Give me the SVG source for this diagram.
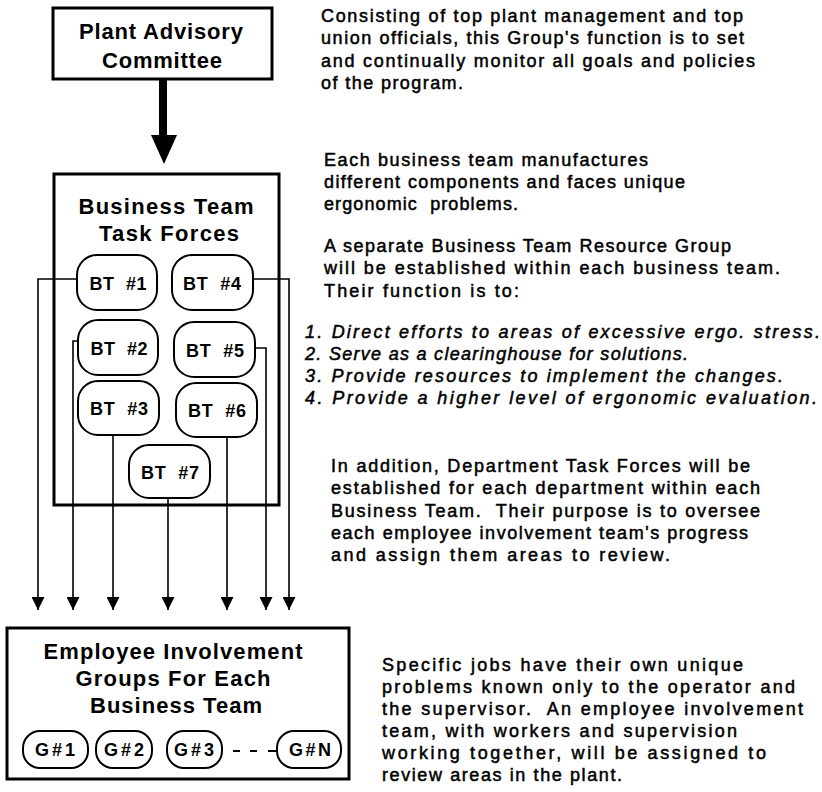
<svg xmlns="http://www.w3.org/2000/svg" width="822" height="792" viewBox="0 0 822 792">
<style>
.t{font-family:"Liberation Sans",Arial,Helvetica,sans-serif;font-size:18px;fill:#000;stroke:#000;stroke-width:0.5;white-space:pre}
.h{font-family:"Liberation Sans",Arial,Helvetica,sans-serif;font-size:22px;font-weight:bold;fill:#000;text-anchor:middle}
.lb{font-family:"Liberation Sans",Arial,Helvetica,sans-serif;font-size:18px;font-weight:bold;fill:#000;text-anchor:middle;white-space:pre}
.i{font-style:italic}
.box{fill:#fff;stroke:#000;stroke-width:3}
.pill{fill:#fff;stroke:#000;stroke-width:2}
.conn{fill:none;stroke:#000;stroke-width:1.6}
</style>
<defs>
<marker id="ah" markerUnits="userSpaceOnUse" viewBox="0 0 13 13" refX="13" refY="6.5" markerWidth="13" markerHeight="13" orient="auto">
<path d="M0,0 L13,6.5 L0,13 z" fill="#000"/>
</marker>
</defs>

<g id="plant-advisory">
<rect class="box" x="53" y="8" width="219" height="71"/>
<text class="h" x="161" y="39" textLength="164" lengthAdjust="spacing">Plant Advisory</text>
<text class="h" x="162" y="68" textLength="120" lengthAdjust="spacing">Committee</text>
</g>

<g id="business-team">
<rect class="box" x="54" y="174" width="225" height="331"/>
<text class="h" x="166" y="214" textLength="175" lengthAdjust="spacing">Business Team</text>
<text class="h" x="169" y="241" textLength="140" lengthAdjust="spacing">Task Forces</text>
</g>

<g id="bt1"><rect class="pill" x="77" y="255" width="80" height="55" rx="20"/><text class="lb" x="118" y="290" textLength="57" lengthAdjust="spacing">BT  #1</text></g>
<g id="bt4"><rect class="pill" x="172" y="255" width="81" height="55" rx="20"/><text class="lb" x="212" y="290" textLength="58" lengthAdjust="spacing">BT  #4</text></g>
<g id="bt2"><rect class="pill" x="78" y="320" width="80" height="55" rx="20"/><text class="lb" x="119" y="355" textLength="57" lengthAdjust="spacing">BT  #2</text></g>
<g id="bt5"><rect class="pill" x="174" y="322" width="81" height="55" rx="20"/><text class="lb" x="215" y="357" textLength="58" lengthAdjust="spacing">BT  #5</text></g>
<g id="bt3"><rect class="pill" x="78" y="381" width="81" height="54" rx="20"/><text class="lb" x="119" y="415" textLength="58" lengthAdjust="spacing">BT  #3</text></g>
<g id="bt6"><rect class="pill" x="176" y="383" width="81" height="54" rx="20"/><text class="lb" x="217" y="417" textLength="58" lengthAdjust="spacing">BT  #6</text></g>
<g id="bt7"><rect class="pill" x="129" y="445" width="81" height="53" rx="20"/><text class="lb" x="170" y="479" textLength="58" lengthAdjust="spacing">BT  #7</text></g>

<g id="employee-groups">
<rect class="box" x="7" y="628" width="342" height="151"/>
<text class="h" x="173" y="659" textLength="259" lengthAdjust="spacing">Employee Involvement</text>
<text class="h" x="173" y="686" textLength="195" lengthAdjust="spacing">Groups For Each</text>
<text class="h" x="176" y="713" textLength="172" lengthAdjust="spacing">Business Team</text>
</g>
<g id="g1"><rect class="pill" x="23" y="731" width="65" height="37" rx="17"/><text class="lb" x="55" y="756" textLength="40" lengthAdjust="spacing">G#1</text></g>
<g id="g2"><rect class="pill" x="96" y="731" width="56" height="37" rx="17"/><text class="lb" x="124" y="756" textLength="40" lengthAdjust="spacing">G#2</text></g>
<g id="g3"><rect class="pill" x="167" y="731" width="55" height="37" rx="17"/><text class="lb" x="194" y="756" textLength="40" lengthAdjust="spacing">G#3</text></g>
<g id="gn"><rect class="pill" x="277" y="731" width="64" height="37" rx="17"/><text class="lb" x="310" y="756" textLength="42" lengthAdjust="spacing">G#N</text></g>

<g id="connectors">
<path d="M163,79 V137" stroke="#000" stroke-width="8" fill="none"/>
<polygon points="151,135 177,135 164,164" fill="#000"/>
<path class="conn" d="M77,279 H38 V610" marker-end="url(#ah)"/>
<path class="conn" d="M78,341 H73 V610" marker-end="url(#ah)"/>
<path class="conn" d="M113,435 V610" marker-end="url(#ah)"/>
<path class="conn" d="M168,498 V610" marker-end="url(#ah)"/>
<path class="conn" d="M227,437 V610" marker-end="url(#ah)"/>
<path class="conn" d="M255,348 H266 V610" marker-end="url(#ah)"/>
<path class="conn" d="M253,279 H289 V610" marker-end="url(#ah)"/>
<path d="M233,751 h7 M250,751 h7 M268,751 h9" stroke="#000" stroke-width="2" fill="none"/>
</g>

<g id="notes">
<text class="t" x="321" y="22" textLength="422" lengthAdjust="spacing">Consisting of top plant management and top</text>
<text class="t" x="321" y="44" textLength="423" lengthAdjust="spacing">union officials, this Group's function is to set</text>
<text class="t" x="321" y="67" textLength="434" lengthAdjust="spacing">and continually monitor all goals and policies</text>
<text class="t" x="321" y="89" textLength="142" lengthAdjust="spacing">of the program.</text>

<text class="t" x="324" y="166" textLength="324" lengthAdjust="spacing">Each business team manufactures</text>
<text class="t" x="324" y="188" textLength="361" lengthAdjust="spacing">different components and faces unique</text>
<text class="t" x="324" y="210" textLength="194" lengthAdjust="spacing">ergonomic  problems.</text>

<text class="t" x="324" y="252" textLength="407" lengthAdjust="spacing">A separate Business Team Resource Group</text>
<text class="t" x="324" y="274" textLength="456" lengthAdjust="spacing">will be established within each business team.</text>
<text class="t" x="324" y="297" textLength="195" lengthAdjust="spacing">Their function is to:</text>

<text class="t i" x="305" y="338" textLength="515" lengthAdjust="spacing">1. Direct efforts to areas of excessive ergo. stress.</text>
<text class="t i" x="305" y="360" textLength="383" lengthAdjust="spacing">2. Serve as a clearinghouse for solutions.</text>
<text class="t i" x="305" y="382" textLength="478" lengthAdjust="spacing">3. Provide resources to implement the changes.</text>
<text class="t i" x="305" y="404" textLength="512" lengthAdjust="spacing">4. Provide a higher level of ergonomic evaluation.</text>

<text class="t" x="331" y="472" textLength="419" lengthAdjust="spacing">In addition, Department Task Forces will be</text>
<text class="t" x="331" y="494" textLength="429" lengthAdjust="spacing">established for each department within each</text>
<text class="t" x="331" y="517" textLength="429" lengthAdjust="spacing">Business Team.  Their purpose is to oversee</text>
<text class="t" x="331" y="539" textLength="417" lengthAdjust="spacing">each employee involvement team's progress</text>
<text class="t" x="331" y="561" textLength="339" lengthAdjust="spacing">and assign them areas to review.</text>

<text class="t" x="382" y="671" textLength="361" lengthAdjust="spacing">Specific jobs have their own unique</text>
<text class="t" x="382" y="693" textLength="413" lengthAdjust="spacing">problems known only to the operator and</text>
<text class="t" x="382" y="715" textLength="421" lengthAdjust="spacing">the supervisor.  An employee involvement</text>
<text class="t" x="382" y="737" textLength="355" lengthAdjust="spacing">team, with workers and supervision</text>
<text class="t" x="382" y="759" textLength="384" lengthAdjust="spacing">working together, will be assigned to</text>
<text class="t" x="382" y="781" textLength="240" lengthAdjust="spacing">review areas in the plant.</text>
</g>
</svg>
